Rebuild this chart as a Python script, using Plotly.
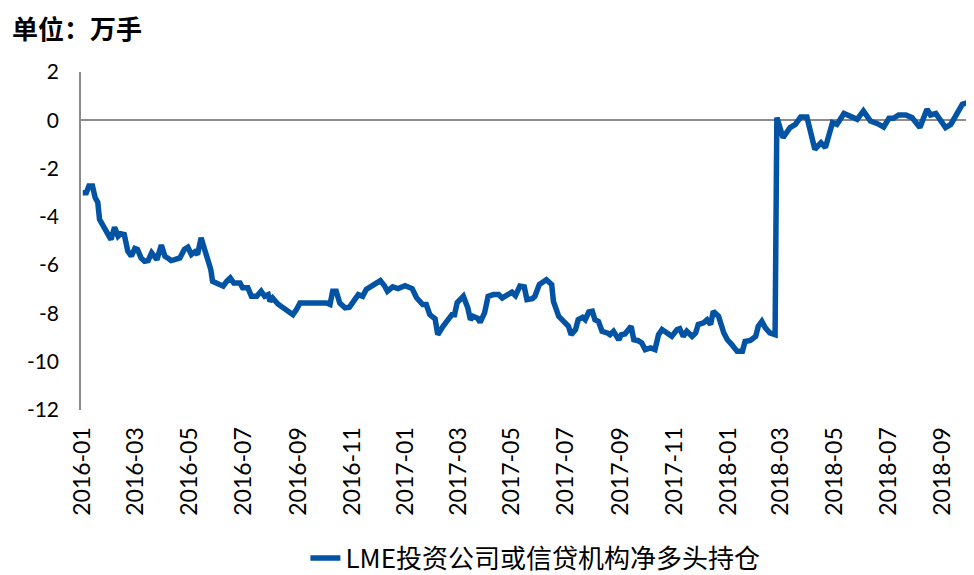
import plotly.graph_objects as go

dates = [
    "2016-01-01", "2016-01-05", "2016-01-08", "2016-01-12", "2016-01-15", "2016-01-18", "2016-01-20",
    "2016-01-24", "2016-01-28", "2016-02-02", "2016-02-06", "2016-02-10", "2016-02-13", "2016-02-17",
    "2016-02-21", "2016-02-25", "2016-02-29", "2016-03-03", "2016-03-07", "2016-03-11", "2016-03-15",
    "2016-03-19", "2016-03-22", "2016-03-25", "2016-03-30", "2016-04-03", "2016-04-06", "2016-04-10",
    "2016-04-14", "2016-04-20", "2016-04-25", "2016-04-29", "2016-05-03", "2016-05-07", "2016-05-10",
    "2016-05-14", "2016-05-18", "2016-05-22", "2016-05-25", "2016-05-27", "2016-06-02", "2016-06-08",
    "2016-06-12", "2016-06-16", "2016-06-20", "2016-06-27", "2016-06-30", "2016-07-06", "2016-07-10",
    "2016-07-16", "2016-07-21", "2016-07-25", "2016-07-29", "2016-07-31", "2016-08-03", "2016-08-09",
    "2016-08-15", "2016-08-20", "2016-08-26", "2016-08-30", "2016-09-03", "2016-10-03", "2016-10-07",
    "2016-10-10", "2016-10-14", "2016-10-18", "2016-10-24", "2016-10-29", "2016-11-04", "2016-11-08",
    "2016-11-13", "2016-11-17", "2016-11-23", "2016-11-28", "2016-12-03", "2016-12-08", "2016-12-11",
    "2016-12-17", "2016-12-23", "2016-12-31", "2017-01-08", "2017-01-13", "2017-01-20", "2017-01-24",
    "2017-01-28", "2017-02-03", "2017-02-06", "2017-02-12", "2017-02-17", "2017-02-22", "2017-02-25",
    "2017-02-28", "2017-03-07", "2017-03-12", "2017-03-15", "2017-03-18", "2017-03-23", "2017-03-26",
    "2017-03-31", "2017-04-04", "2017-04-10", "2017-04-16", "2017-04-20", "2017-04-26", "2017-05-01",
    "2017-05-05", "2017-05-10", "2017-05-15", "2017-05-18", "2017-05-24", "2017-05-27", "2017-06-01",
    "2017-06-09", "2017-06-15", "2017-06-17", "2017-06-23", "2017-06-29", "2017-07-04", "2017-07-07",
    "2017-07-12", "2017-07-15", "2017-07-20", "2017-07-23", "2017-07-27", "2017-07-31", "2017-08-03",
    "2017-08-07", "2017-08-11", "2017-08-17", "2017-08-20", "2017-08-24", "2017-08-30", "2017-09-02",
    "2017-09-06", "2017-09-13", "2017-09-16", "2017-09-21", "2017-09-25", "2017-09-29", "2017-10-05",
    "2017-10-10", "2017-10-14", "2017-10-18", "2017-10-24", "2017-10-29", "2017-11-04", "2017-11-07",
    "2017-11-11", "2017-11-15", "2017-11-21", "2017-11-25", "2017-11-28", "2017-12-04", "2017-12-08",
    "2017-12-12", "2017-12-15", "2017-12-21", "2017-12-27", "2017-12-31", "2018-01-05", "2018-01-11",
    "2018-01-17", "2018-01-20", "2018-01-26", "2018-02-01", "2018-02-04", "2018-02-08", "2018-02-12",
    "2018-02-17", "2018-02-23", "2018-02-25", "2018-03-04", "2018-03-09", "2018-03-12", "2018-03-18",
    "2018-03-24", "2018-03-31", "2018-04-04", "2018-04-09", "2018-04-16", "2018-04-21", "2018-04-29",
    "2018-05-04", "2018-05-12", "2018-05-19", "2018-05-27", "2018-06-03", "2018-06-11", "2018-06-19",
    "2018-06-26", "2018-07-02", "2018-07-07", "2018-07-13", "2018-07-21", "2018-07-28", "2018-08-06",
    "2018-08-14", "2018-08-18", "2018-08-24", "2018-08-28", "2018-09-04", "2018-09-10", "2018-09-15",
    "2018-09-23", "2018-09-29", "2018-10-04",
]

net_long = [
    -3.00, -3.00, -2.72, -2.72, -3.20, -3.40, -4.10,
    -4.38, -4.59, -4.94, -4.43, -4.80, -4.70, -4.73,
    -5.42, -5.63, -5.31, -5.35, -5.70, -5.84, -5.81,
    -5.49, -5.63, -5.77, -5.17, -5.63, -5.70, -5.81,
    -5.77, -5.70, -5.35, -5.26, -5.56, -5.45, -5.56,
    -4.87, -5.35, -5.84, -6.18, -6.67, -6.80, -6.87,
    -6.67, -6.53, -6.74, -6.74, -6.94, -6.94, -7.29,
    -7.29, -7.08, -7.29, -7.22, -7.50, -7.36, -7.61,
    -7.77, -7.91, -8.05, -7.84, -7.57, -7.57, -7.63,
    -7.08, -7.08, -7.57, -7.77, -7.74, -7.36, -7.22,
    -7.29, -7.01, -6.87, -6.74, -6.64, -6.87, -7.08,
    -6.90, -6.97, -6.85, -6.97, -7.35, -7.63, -7.63,
    -8.05, -8.22, -8.88, -8.53, -8.26, -8.05, -8.05,
    -7.55, -7.29, -7.77, -8.26, -8.12, -8.20, -8.37,
    -7.98, -7.29, -7.22, -7.22, -7.36, -7.22, -7.12,
    -7.26, -6.87, -6.90, -7.43, -7.39, -7.29, -6.80,
    -6.60, -6.80, -7.50, -8.12, -8.39, -8.53, -8.88,
    -8.67, -8.26, -8.16, -8.26, -7.94, -7.91, -8.26,
    -8.33, -8.74, -8.81, -8.88, -8.74, -9.09, -8.88,
    -8.85, -8.53, -9.09, -9.13, -9.22, -9.50, -9.43,
    -9.50, -8.88, -8.67, -8.81, -8.95, -8.67, -8.63,
    -8.95, -8.74, -8.95, -8.81, -8.46, -8.39, -8.26,
    -8.46, -7.91, -8.12, -8.81, -9.09, -9.29, -9.57,
    -9.57, -9.16, -9.12, -8.95, -8.53, -8.33, -8.60,
    -8.81, -8.88, 0.11, -0.72, -0.51, -0.30, -0.17,
    0.14, 0.14, -0.58, -1.20, -0.93, -1.13, -0.10,
    -0.17, 0.28, 0.18, 0.04, 0.39, -0.03, -0.14,
    -0.28, 0.08, 0.08, 0.22, 0.22, 0.11, -0.30,
    0.46, 0.22, 0.28, 0.04, -0.30, -0.17, 0.18,
    0.66, 0.73, 0.69,
]

series_name = "LME投资公司或信贷机构净多头持仓"
unit_label = "单位：万手"
y_tick_values = [2, 0, -2, -4, -6, -8, -10, -12]
y_tick_labels = ["2", "0", "-2", "-4", "-6", "-8", "-10", "-12"]

LATIN = "Lato, 'Noto Sans CJK SC', sans-serif"
CJK = "'Noto Sans CJK SC', sans-serif"

fig = go.Figure()
fig.add_trace(go.Scatter(
    x=dates, y=net_long, mode="lines", name=series_name,
    line=dict(color="#0253A4", width=5.5),
))

# page body has an 8px margin, so the figure is 8px smaller each way
fig.update_layout(
    width=966, height=567,
    margin=dict(l=73, r=2, t=64, b=165),
    plot_bgcolor="white", paper_bgcolor="white",
    showlegend=True,
    legend=dict(orientation="h", x=0.51, xanchor="center",
                yref="container", y=0.03, yanchor="middle",
                font=dict(family=CJK, size=26, color="#000000")),
    xaxis=dict(
        type="date", range=["2015-12-30", "2018-10-04"], automargin=False,
        dtick="M2", tick0="2016-01-01", tickformat="%Y-%m", tickangle=-90,
        showgrid=False, showline=False, zeroline=False,
        ticks="outside", ticklen=7, tickcolor="rgba(0,0,0,0)",
        tickfont=dict(family=LATIN, size=23, color="#000000"),
    ),
    yaxis=dict(
        range=[-12, 2], automargin=False,
        tickvals=y_tick_values, ticktext=y_tick_labels, showgrid=False,
        showline=True, linecolor="#8c8c8c", linewidth=1.5,
        zeroline=True, zerolinecolor="#8c8c8c", zerolinewidth=1.5,
        ticks="outside", ticklen=16, tickcolor="rgba(0,0,0,0)",
        tickfont=dict(family=LATIN, size=21, color="#000000"),
    ),
    annotations=[dict(
        text=unit_label, xref="paper", yref="paper", x=-0.0797, y=1.133,
        xanchor="left", yanchor="middle", showarrow=False,
        font=dict(family=CJK, size=26, color="#000000", weight="bold"),
    )],
)

fig.write_html("out.html")
